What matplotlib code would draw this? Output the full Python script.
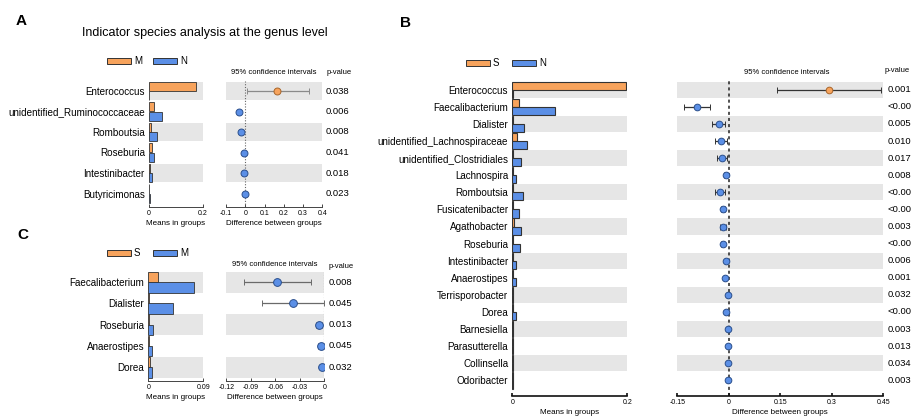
import matplotlib
matplotlib.use('Agg')
import matplotlib.pyplot as plt
import matplotlib.transforms as mtrans
from matplotlib.patches import Rectangle
from matplotlib.ticker import FuncFormatter

plt.rcParams['font.family'] = ['Liberation Sans', 'DejaVu Sans']

# ---------------- data ----------------
a_genera = ['Enterococcus', 'unidentified_Ruminococcaceae', 'Romboutsia',
            'Roseburia', 'Intestinibacter', 'Butyricimonas']
a_mean_M = [0.175, 0.019, 0.008, 0.010, 0.002, 0.001]
a_mean_N = [0.001, 0.048, 0.028, 0.018, 0.010, 0.002]
a_diff = [0.167, -0.031, -0.022, -0.008, -0.007, -0.001]
a_ci_low = [0.010, -0.036, -0.027, -0.012, -0.011, -0.004]
a_ci_high = [0.333, -0.026, -0.017, -0.004, -0.003, 0.002]
a_pvalue = ['0.038', '0.006', '0.008', '0.041', '0.018', '0.023']

b_genera = ['Enterococcus', 'Faecalibacterium', 'Dialister',
            'unidentified_Lachnospiraceae', 'unidentified_Clostridiales',
            'Lachnospira', 'Romboutsia', 'Fusicatenibacter', 'Agathobacter',
            'Roseburia', 'Intestinibacter', 'Anaerostipes', 'Terrisporobacter',
            'Dorea', 'Barnesiella', 'Parasutterella', 'Collinsella', 'Odoribacter']
b_mean_S = [0.197, 0.011, 0.001, 0.009, 0.001, 0.001, 0.001, 0.0005, 0.003,
            0.001, 0.001, 0.0005, 0.001, 0.001, 0.001, 0.001, 0.001, 0.001]
b_mean_N = [0.001, 0.074, 0.020, 0.025, 0.0145, 0.007, 0.018, 0.012, 0.0145,
            0.0128, 0.0064, 0.0064, 0.001, 0.0058, 0.002, 0.0012, 0.0015, 0.001]
b_diff = [0.291, -0.094, -0.028, -0.023, -0.020, -0.009, -0.026, -0.017, -0.017,
          -0.018, -0.007, -0.011, -0.002, -0.007, -0.002, -0.001, -0.001, -0.001]
b_ci_low = [0.140, -0.130, -0.048, -0.040, -0.035, -0.013, -0.040, -0.022, -0.027,
            -0.023, -0.010, -0.015, -0.004, -0.010, -0.004, -0.002, -0.002, -0.002]
b_ci_high = [0.442, -0.055, -0.011, -0.006, -0.005, -0.005, -0.012, -0.012, -0.007,
             -0.013, -0.004, -0.007, 0.000, -0.004, 0.000, 0.000, 0.000, 0.000]
b_pvalue = ['0.001', '<0.001', '0.005', '0.010', '0.017', '0.008', '<0.001',
            '<0.001', '0.003', '<0.001', '0.006', '0.001', '0.032', '<0.001',
            '0.003', '0.013', '0.034', '0.003']

c_genera = ['Faecalibacterium', 'Dialister', 'Roseburia', 'Anaerostipes', 'Dorea']
c_mean_S = [0.016, 0.0008, 0.001, 0.0005, 0.002]
c_mean_M = [0.075, 0.040, 0.008, 0.0065, 0.006]
c_diff = [-0.0575, -0.0387, -0.0069, -0.0044, -0.003]
c_ci_low = [-0.098, -0.0767, -0.0105, -0.0075, -0.005]
c_ci_high = [-0.016, -0.0005, -0.0033, -0.0013, -0.001]
c_pvalue = ['0.008', '0.045', '0.013', '0.045', '0.032']

a_bar_ticks = [0, 0.2]
a_ci_ticks = [-0.1, 0, 0.1, 0.2, 0.3, 0.4]
b_bar_ticks = [0, 0.2]
b_ci_ticks = [-0.15, 0, 0.15, 0.3, 0.45]
c_bar_ticks = [0, 0.09]
c_ci_ticks = [-0.12, -0.09, -0.06, -0.03, 0]

ORANGE = '#F7A35C'
BLUE = '#5B8FE6'
GREY = '#E6E6E6'

W, H = 912, 416
fig = plt.figure(figsize=(W / 100, H / 100), dpi=100)

ov = fig.add_axes([0, 0, 1, 1])
ov.set_xlim(0, W)
ov.set_ylim(H, 0)
ov.axis('off')


def px_axes(x0, x1, y0, y1):
    return fig.add_axes([x0 / W, 1 - y1 / H, (x1 - x0) / W, (y1 - y0) / H])


fmt = FuncFormatter(lambda v, p: '%g' % round(v, 4))


def panel(genera, g1, g2, diff, lo, hi, pv, c0, s, barx, cix, axis_y,
          bar_ticks, ci_ticks, band, bold, pval_x, ms, ecol, zstyle):
    n = len(genera)
    top = c0 - s * 0.5
    ylim = ((axis_y - c0) / s, -0.5)
    spw = 1.2 if bold else 0.7
    spc = '#111111' if bold else '#444444'
    bar_lw = 0.8 if bold else 0.6
    axes = []
    for (x0, x1), ticks in ((barx, bar_ticks), (cix, ci_ticks)):
        ax = px_axes(x0, x1, top, axis_y)
        ax.set_ylim(*ylim)
        ax.set_xlim(ticks[0], ticks[-1])
        for i in range(0, n, 2):
            ax.axhspan(i - band / 2, i + band / 2, color=GREY, lw=0, zorder=0)
        for sp in ('left', 'right', 'top'):
            ax.spines[sp].set_visible(False)
        ax.spines['bottom'].set_linewidth(spw)
        ax.spines['bottom'].set_color(spc)
        ax.set_xticks(ticks)
        ax.xaxis.set_major_formatter(fmt)
        ax.tick_params(axis='x', direction='in', length=2.2, width=spw,
                       color=spc, labelsize=5, pad=2.5)
        ax.patch.set_alpha(0)
        axes.append(ax)
    axb, axc = axes
    h = band / 2
    ys = list(range(n))
    axb.barh([y - h / 2 for y in ys], g1, height=h, color=ORANGE,
             edgecolor='#333333', lw=bar_lw, zorder=2)
    axb.barh([y + h / 2 for y in ys], g2, height=h, color=BLUE,
             edgecolor='#333333', lw=bar_lw, zorder=2)
    axb.set_yticks(ys)
    axb.set_yticklabels(genera, fontsize=7.1)
    axb.tick_params(axis='y', length=0, pad=3)
    axb.set_xlabel('Means in groups', fontsize=5.8, labelpad=1.5)

    axc.set_yticks([])
    axc.axvline(0, **zstyle, zorder=1)
    for y, d, l, u in zip(ys, diff, lo, hi):
        col = ORANGE if d > 0 else BLUE
        mec = '#A8652A' if d > 0 else '#2B4F8C'
        axc.errorbar(d, y, xerr=[[d - l], [u - d]], fmt='o', color=ecol,
                     ecolor=ecol, elinewidth=0.9, capsize=2, capthick=0.9,
                     mfc=col, mec=mec, mew=0.7, ms=ms, zorder=3)
    axc.set_xlabel('Difference between groups', fontsize=5.8, labelpad=1.5)
    tr = mtrans.blended_transform_factory(ov.transData, axc.transData)
    for y, p in zip(ys, pv):
        axc.text(pval_x, y, p, transform=tr, fontsize=6.8, va='center',
                 ha='left', clip_on=False)
    return axb, axc


panel(a_genera, a_mean_M, a_mean_N, a_diff, a_ci_low, a_ci_high, a_pvalue,
      c0=91, s=20.5, barx=(149, 203), cix=(226, 322.3), axis_y=207,
      bar_ticks=a_bar_ticks, ci_ticks=a_ci_ticks, band=0.9, bold=False,
      pval_x=326, ms=5, ecol='#8A8A8A',
      zstyle=dict(color='#666666', lw=0.8, ls=(0, (1, 1.5))))

panel(b_genera, b_mean_S, b_mean_N, b_diff, b_ci_low, b_ci_high, b_pvalue,
      c0=89.7, s=17.1, barx=(512.3, 627.3), cix=(677.3, 883.3), axis_y=396,
      bar_ticks=b_bar_ticks, ci_ticks=b_ci_ticks, band=0.95, bold=True,
      pval_x=888, ms=4.8, ecol='#333333',
      zstyle=dict(color='#222222', lw=1.1, ls=(0, (2, 2))))

panel(c_genera, c_mean_S, c_mean_M, c_diff, c_ci_low, c_ci_high, c_pvalue,
      c0=282.2, s=21.25, barx=(148.3, 203.3), cix=(226.3, 324.3), axis_y=381,
      bar_ticks=c_bar_ticks, ci_ticks=c_ci_ticks, band=0.97, bold=False,
      pval_x=329, ms=5.6, ecol='#6A6A6A',
      zstyle=dict(color='#666666', lw=0.8, ls=(0, (1, 1.5))))

# ---------------- overlay texts ----------------
ov.text(16, 21, 'A', fontsize=11, fontweight='bold', va='center', ha='left')
ov.text(400, 23, 'B', fontsize=11, fontweight='bold', va='center', ha='left')
ov.text(17, 235, 'C', fontsize=11, fontweight='bold', va='center', ha='left')
ov.text(205, 33, 'Indicator species analysis at the genus level', fontsize=9,
        ha='center', va='center')


def legend(x, y, l1, l2, w=24, h=5.5, gap=46):
    for k, (c, lab) in enumerate(((ORANGE, l1), (BLUE, l2))):
        xx = x + k * gap
        ov.add_patch(Rectangle((xx, y - h / 2), w, h, fc=c, ec='#333333', lw=0.7))
        ov.text(xx + w + 3, y, lab, fontsize=7, va='center', ha='left')


legend(107, 61, 'M', 'N')
legend(466, 63, 'S', 'N')
legend(107, 253, 'S', 'M')

for (x, y) in ((274, 72), (786.7, 72), (275, 264)):
    ov.text(x, y, '95% confidence intervals', fontsize=5.5, ha='center', va='center')
for (x, y) in ((327, 72), (885, 70), (329, 267)):
    ov.text(x, y, 'p-value', fontsize=5.5, ha='left', va='center')

fig.savefig('out.png', dpi=100)
